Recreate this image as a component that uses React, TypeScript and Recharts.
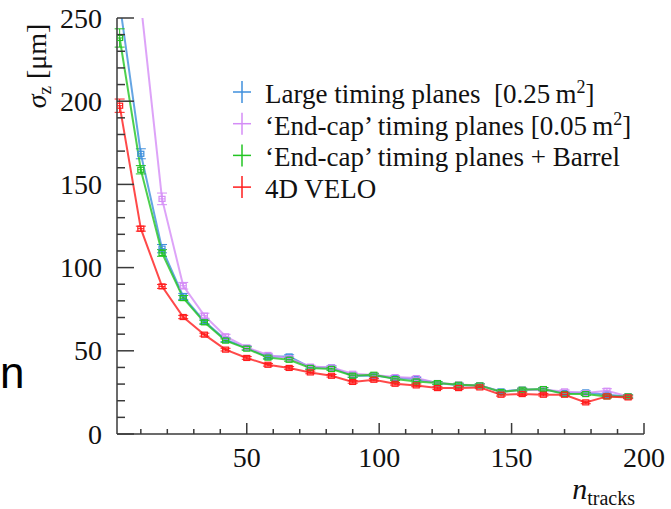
import React from 'react';
import { LineChart, Line, XAxis, YAxis, ErrorBar } from 'recharts';

// ---- data ----
const nTracks = [2, 10, 18, 26, 34, 42, 50, 58, 66, 74, 82, 90, 98, 106, 114, 122, 130, 138, 146, 154, 162, 170, 178, 186, 194];

const largePlanes = [259, 168.4, 111.4, 82.7, 67.7, 56.7, 51.7, 46.5, 46.6, 40.0, 40.0, 35.0, 35.2, 33.6, 33.0, 30.6, 29.3, 29.2, 25.6, 26.6, 26.9, 24.6, 25.0, 23.6, 22.6];
const endcapPlanes = [420, 259, 141.3, 89.1, 71.1, 58.7, 52.0, 47.5, 45.5, 40.5, 40.0, 36.2, 35.4, 34.2, 33.6, 30.6, 29.8, 29.2, 25.2, 26.6, 26.6, 25.6, 24.6, 26.0, 22.6];
const endcapBarrel = [238, 158.8, 108.8, 81.7, 67.1, 56.1, 51.3, 45.9, 44.6, 39.7, 39.1, 35.0, 35.6, 33.0, 31.6, 30.6, 29.6, 29.2, 25.2, 26.6, 27.0, 24.0, 24.0, 22.6, 22.6];
const velo4D = [197.3, 123.4, 88.7, 70.3, 59.7, 50.7, 45.7, 41.6, 39.7, 37.0, 35.0, 31.3, 32.6, 30.2, 29.2, 27.6, 27.6, 28.0, 23.6, 24.0, 23.6, 23.6, 19.0, 22.6, 22.0];

const largeErr = [6, 3, 2.5, 1.8, 1.4, 1.2, 1, 1, 1, 0.9, 0.9, 0.9, 0.9, 0.9, 0.9, 0.9, 0.9, 0.9, 0.9, 0.9, 0.9, 0.9, 0.9, 0.9, 0.9];
const endcapErr = [8, 6, 3.5, 2, 1.5, 1.2, 1, 1, 1, 0.9, 0.9, 0.9, 0.9, 0.9, 0.9, 0.9, 0.9, 0.9, 0.9, 0.9, 0.9, 0.9, 0.9, 1.2, 0.9];
const barrelErr = [5.5, 2.5, 2, 1.5, 1.2, 1, 1, 0.9, 0.9, 0.9, 0.9, 0.9, 0.9, 0.9, 0.9, 0.9, 0.9, 0.9, 0.9, 0.9, 0.9, 0.9, 0.9, 0.9, 0.9];
const veloErr = [4, 1.5, 1.2, 1, 0.9, 0.8, 0.8, 0.8, 0.8, 0.8, 0.8, 0.8, 0.8, 0.8, 0.8, 0.8, 0.8, 0.8, 0.8, 0.8, 0.8, 0.8, 0.8, 0.8, 0.8];

const xTicks = [10, 20, 30, 40, 50, 60, 70, 80, 90, 100, 110, 120, 130, 140, 150, 160, 170, 180, 190, 200];
const yTicks = [0, 10, 20, 30, 40, 50, 60, 70, 80, 90, 100, 110, 120, 130, 140, 150, 160, 170, 180, 190, 200, 210, 220, 230, 240, 250];
const Y_MAX = 250;

const seriesNames = [
  'Large timing planes',
  '‘End-cap’ timing planes',
  '‘End-cap’ timing planes + Barrel',
  '4D VELO',
];

const COLORS = ['#3f8fdc', '#d48cf6', '#22c422', '#ff1c1c'];

// error bars are only drawn for points inside the visible frame
const inFrame = (v: number, e: number) => (v <= Y_MAX ? e : null);

const data = nTracks.map((x, i) => ({
  x,
  large: largePlanes[i],
  largeErr: inFrame(largePlanes[i], largeErr[i]),
  endcap: endcapPlanes[i],
  endcapErr: inFrame(endcapPlanes[i], endcapErr[i]),
  barrel: endcapBarrel[i],
  barrelErr: inFrame(endcapBarrel[i], barrelErr[i]),
  velo: velo4D[i],
  veloErr: inFrame(velo4D[i], veloErr[i]),
}));

const AX = '#3a3a3a';

const CSS = `
#sigmaz-root, #sigmaz-root svg, #sigmaz-root text, #sigmaz-root tspan { font-family: "Liberation Serif" !important; }
#sigmaz-root text.sans, #sigmaz-root text.sans tspan { font-family: "Liberation Sans" !important; }
`;

const BottomTick = (props: any) => {
  const { x, y, payload } = props;
  const major = payload.value % 50 === 0;
  return (
    <g>
      <line x1={x} x2={x} y1={y} y2={y - (major ? 11 : 5)} stroke={AX} strokeWidth={1.5} />
      {major && (
        <text x={x} y={y + 33} textAnchor="middle" fontSize={28} fill="#111">
          {payload.value}
        </text>
      )}
    </g>
  );
};

const TopTick = (props: any) => {
  const { x, y, payload } = props;
  const major = payload.value % 50 === 0;
  return <line x1={x} x2={x} y1={y} y2={y + (major ? 11 : 5)} stroke={AX} strokeWidth={1.5} />;
};

const LeftTick = (props: any) => {
  const { x, y, payload } = props;
  const major = payload.value % 50 === 0;
  return (
    <g>
      <line x1={x} x2={x + (major ? 17 : 8)} y1={y} y2={y} stroke={AX} strokeWidth={1.5} />
      {major && (
        <text x={x - 15} y={y + 9.5} textAnchor="end" fontSize={28} fill="#111">
          {payload.value}
        </text>
      )}
    </g>
  );
};

const RightTick = (props: any) => {
  const { x, y, payload } = props;
  const major = payload.value % 50 === 0;
  return <line x1={x} x2={x - (major ? 17 : 8)} y1={y} y2={y} stroke={AX} strokeWidth={1.5} />;
};

const makeDot = (color: string) => (props: any) => {
  const { cx, cy, index } = props;
  if (cx == null || cy == null || cy < 17 || cy > 436) return <g key={`d${index}`} />;
  return (
    <g key={`d${index}`}>
      <rect x={cx - 3} y={cy - 2.5} width={6} height={5} fill="none" stroke={color} strokeWidth={1.2} />
      <line x1={cx - 3} x2={cx + 3} y1={cy} y2={cy} stroke={color} strokeWidth={1} />
    </g>
  );
};

const legendRows = [
  { color: COLORS[0], label: 'Large timing planes  [0.25\u2009m', sup: true },
  { color: COLORS[1], label: '‘End-cap’ timing planes [0.05\u2009m', sup: true },
  { color: COLORS[2], label: '‘End-cap’ timing planes + Barrel', sup: false },
  { color: COLORS[3], label: '4D VELO', sup: false },
];

export default function App() {
  const keys = ['large', 'endcap', 'barrel', 'velo'];
  return (
    <div id="sigmaz-root" style={{ position: 'absolute', left: 0, top: 0, width: 671, height: 509, background: '#fff' }}>
      <style>{CSS}</style>
      <LineChart
        width={671}
        height={509}
        data={data}
        margin={{ top: 18, right: 27, bottom: 0, left: 0 }}
      >
        <XAxis
          dataKey="x"
          type="number"
          domain={[1, 200]}
          ticks={xTicks}
          interval={0}
          height={75}
          tickSize={0}
          tickMargin={0}
          tickLine={false}
          axisLine={{ stroke: AX, strokeWidth: 1.5 }}
          tick={<BottomTick />}
          allowDataOverflow
        />
        <XAxis
          xAxisId="top"
          dataKey="x"
          orientation="top"
          type="number"
          domain={[1, 200]}
          ticks={xTicks}
          interval={0}
          height={0}
          tickSize={0}
          tickMargin={0}
          tickLine={false}
          axisLine={{ stroke: AX, strokeWidth: 1.5 }}
          tick={<TopTick />}
          allowDataOverflow
        />
        <YAxis
          type="number"
          domain={[0, Y_MAX]}
          ticks={yTicks}
          interval={0}
          width={117}
          tickSize={0}
          tickMargin={0}
          tickLine={false}
          axisLine={{ stroke: AX, strokeWidth: 1.5 }}
          tick={<LeftTick />}
          allowDataOverflow
        />
        <YAxis
          yAxisId="right"
          orientation="right"
          type="number"
          domain={[0, Y_MAX]}
          ticks={yTicks}
          interval={0}
          width={0}
          tickSize={0}
          tickMargin={0}
          tickLine={false}
          axisLine={{ stroke: AX, strokeWidth: 1.5 }}
          tick={<RightTick />}
          allowDataOverflow
        />
        {keys.map((k, i) => (
          <Line
            key={k}
            dataKey={k}
            name={seriesNames[i]}
            type="linear"
            stroke={COLORS[i]}
            strokeWidth={2}
            strokeOpacity={0.8}
            dot={makeDot(COLORS[i])}
            activeDot={false}
            isAnimationActive={false}
          >
            <ErrorBar dataKey={`${k}Err`} width={5} stroke={COLORS[i]} strokeWidth={1} direction="y" />
          </Line>
        ))}
      </LineChart>

      <svg
        width={671}
        height={509}
        style={{ position: 'absolute', left: 0, top: 0, pointerEvents: 'none' }}
      >
        {/* legend */}
        {legendRows.map((r, i) => {
          const base = 103 + i * 31.7;
          return (
            <g key={i}>
              <line x1={233} x2={251} y1={base - 11} y2={base - 11} stroke={r.color} strokeWidth={1.5} />
              <line x1={242} x2={242} y1={base - 22} y2={base} stroke={r.color} strokeWidth={1.5} />
              <text x={265} y={base} fontSize={27} fill="#111" style={{ whiteSpace: 'pre' }}>
                <tspan>{r.label}</tspan>
                {r.sup && (
                  <>
                    <tspan dy={-10} fontSize={18}>2</tspan>
                    <tspan dy={10}>]</tspan>
                  </>
                )}
              </text>
            </g>
          );
        })}

        {/* y-axis title */}
        <text
          transform="translate(46,66) rotate(-90)"
          textAnchor="middle"
          fontSize={28}
          fill="#111"
          style={{ whiteSpace: 'pre' }}
        >
          <tspan fontStyle="italic">σ</tspan>
          <tspan fontSize={19} dy={5}>z</tspan>
          <tspan dy={-5}> [μm]</tspan>
        </text>

        {/* x-axis title */}
        <text x={635} y={499} textAnchor="end" fill="#111">
          <tspan fontStyle="italic" fontSize={30}>n</tspan>
          <tspan fontSize={20} dy={6}>tracks</tspan>
        </text>

        {/* stray letter at left edge */}
        <text className="sans" x={0} y={388} fontSize={44} fill="#000">
          n
        </text>
      </svg>
    </div>
  );
}
